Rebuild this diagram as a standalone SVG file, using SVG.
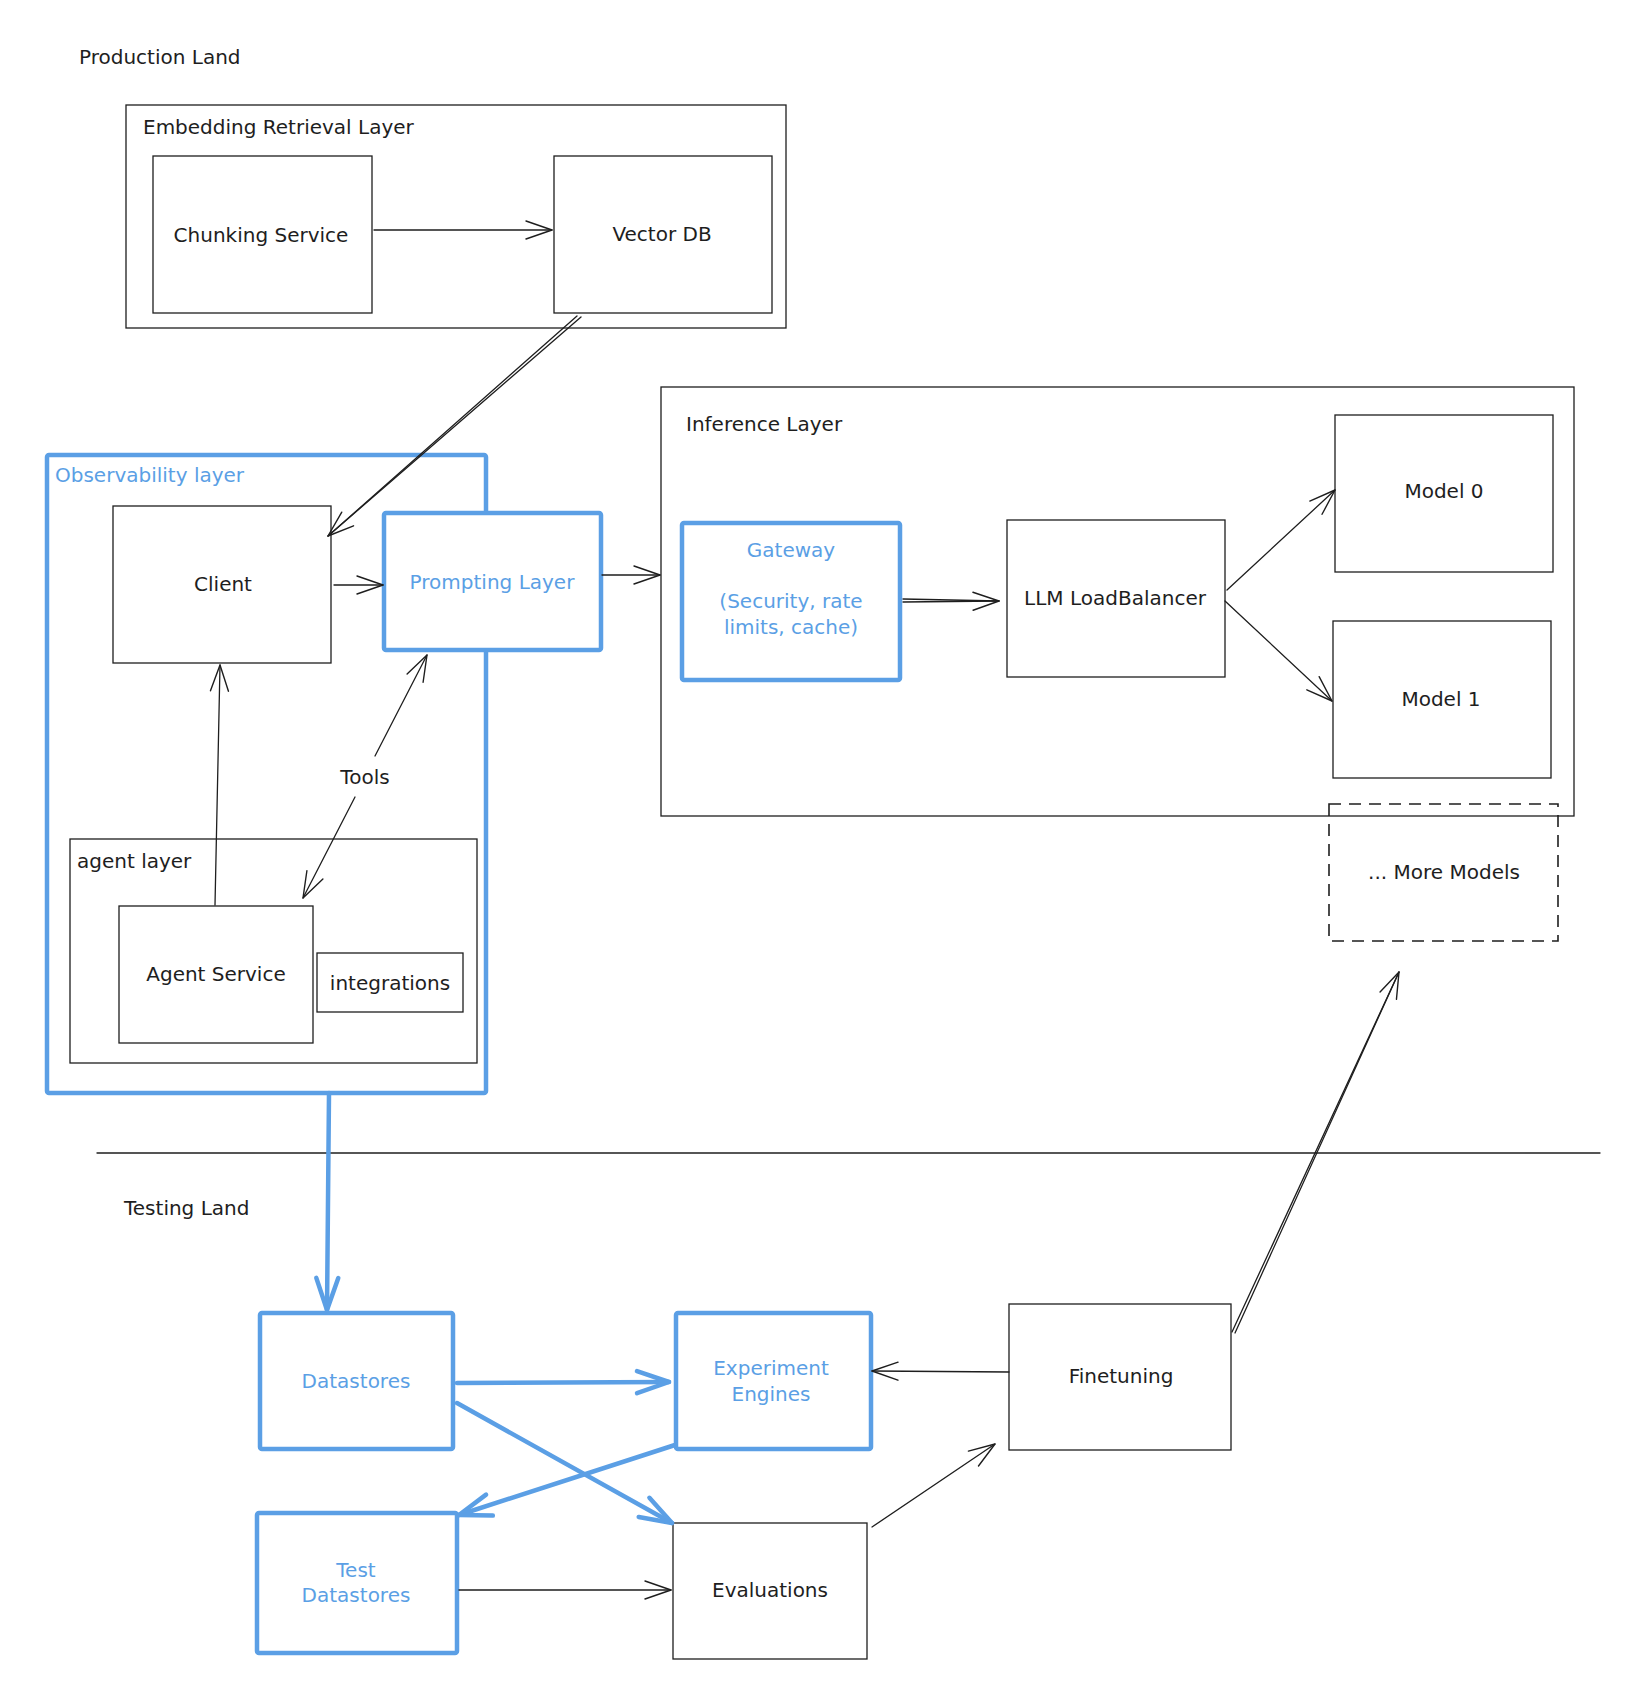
<svg xmlns="http://www.w3.org/2000/svg" width="1646" height="1684" viewBox="0 0 1646 1684">
<defs>
<style>
text{font-family:"DejaVu Sans","Liberation Sans",sans-serif;font-size:20px;fill:#1e1e1e;dominant-baseline:central}
.c{text-anchor:middle}
.b{fill:#5b9fe5}
.box{fill:none;stroke:#1e1e1e;stroke-width:1.3}
.bbox{fill:none;stroke:#5b9fe5;stroke-width:4.5;stroke-linejoin:round}
.wf{fill:#ffffff}
.ln{fill:none;stroke:#1e1e1e;stroke-width:1.3;stroke-linecap:round}
.bl{fill:none;stroke:#5b9fe5;stroke-width:4.5;stroke-linecap:round}
</style>
<marker id="ah" markerUnits="userSpaceOnUse" markerWidth="40" markerHeight="30" viewBox="-32 -15 40 30" refX="0" refY="0" orient="auto" overflow="visible">
<path d="M-26,-9 L0,0 L-26,9" fill="none" stroke="#1e1e1e" stroke-width="1.4" stroke-linecap="round" stroke-linejoin="round"/>
</marker>
<marker id="bh" markerUnits="userSpaceOnUse" markerWidth="44" markerHeight="34" viewBox="-38 -17 44 34" refX="0" refY="0" orient="auto" overflow="visible">
<path d="M-32,-11 L0,0 L-32,11" fill="none" stroke="#5b9fe5" stroke-width="4.5" stroke-linecap="round" stroke-linejoin="round"/>
</marker>
</defs>
<rect width="1646" height="1684" fill="#ffffff"/>

<g id="labels">
<text x="79" y="57">Production Land</text>
<text x="124" y="1208">Testing Land</text>
</g>

<g id="embedding-layer">
<rect class="box" x="126" y="105" width="660" height="223"/>
<text x="143" y="127">Embedding Retrieval Layer</text>
</g>
<g id="chunking-service">
<rect class="box" x="153" y="156" width="219" height="157"/>
<text class="c" x="261" y="235">Chunking Service</text>
</g>
<g id="vector-db">
<rect class="box" x="554" y="156" width="218" height="157"/>
<text class="c" x="662" y="234">Vector DB</text>
</g>

<g id="inference-layer">
<rect class="box" x="661" y="387" width="913" height="429"/>
<text x="686" y="424">Inference Layer</text>
</g>
<g id="gateway">
<rect class="bbox" x="682" y="523" width="218" height="157" rx="2"/>
<text class="c b" x="791" y="550">Gateway</text>
<text class="c b" x="791" y="601">(Security, rate</text>
<text class="c b" x="791" y="627">limits, cache)</text>
</g>
<g id="llm-loadbalancer">
<rect class="box" x="1007" y="520" width="218" height="157"/>
<text class="c" x="1115" y="598">LLM LoadBalancer</text>
</g>
<g id="model-0">
<rect class="box" x="1335" y="415" width="218" height="157"/>
<text class="c" x="1444" y="491">Model 0</text>
</g>
<g id="model-1">
<rect class="box" x="1333" y="621" width="218" height="157"/>
<text class="c" x="1441" y="699">Model 1</text>
</g>
<g id="more-models">
<rect x="1329" y="804" width="229" height="137" fill="none" stroke="#1e1e1e" stroke-width="1.6" stroke-dasharray="12 8"/>
<text class="c" x="1444" y="872">... More Models</text>
</g>

<g id="observability-layer">
<rect class="bbox" x="47" y="455" width="439" height="638" rx="2"/>
<text class="b" x="55" y="475">Observability layer</text>
</g>
<g id="client">
<rect class="box" x="113" y="506" width="218" height="157"/>
<text class="c" x="223" y="584">Client</text>
</g>
<g id="prompting-layer">
<rect class="bbox wf" x="384" y="513" width="217" height="137" rx="2"/>
<text class="c b" x="492" y="582">Prompting Layer</text>
</g>
<g id="agent-layer">
<rect class="box" x="70" y="839" width="407" height="224"/>
<text x="77" y="861">agent layer</text>
</g>
<g id="agent-service">
<rect class="box" x="119" y="906" width="194" height="137"/>
<text class="c" x="216" y="974">Agent Service</text>
</g>
<g id="integrations">
<rect class="box" x="317" y="953" width="146" height="59"/>
<text class="c" x="390" y="983">integrations</text>
</g>

<g id="divider">
<line class="ln" x1="97" y1="1153" x2="1600" y2="1153"/>
</g>

<g id="datastores">
<rect class="bbox" x="260" y="1313" width="193" height="136" rx="2"/>
<text class="c b" x="356" y="1381">Datastores</text>
</g>
<g id="experiment-engines">
<rect class="bbox" x="676" y="1313" width="195" height="136" rx="2"/>
<text class="c b" x="771" y="1368">Experiment</text>
<text class="c b" x="771" y="1394">Engines</text>
</g>
<g id="test-datastores">
<rect class="bbox" x="257" y="1513" width="200" height="140" rx="2"/>
<text class="c b" x="356" y="1570">Test</text>
<text class="c b" x="356" y="1595">Datastores</text>
</g>
<g id="evaluations">
<rect class="box" x="673" y="1523" width="194" height="136"/>
<text class="c" x="770" y="1590">Evaluations</text>
</g>
<g id="finetuning">
<rect class="box" x="1009" y="1304" width="222" height="146"/>
<text class="c" x="1121" y="1376">Finetuning</text>
</g>

<g id="connectors">
<line class="ln" x1="374" y1="230" x2="552" y2="230" marker-end="url(#ah)"/>
<line class="ln" x1="577" y1="316" x2="328" y2="536"/>
<line class="ln" x1="581" y1="317" x2="328" y2="536" marker-end="url(#ah)"/>
<line class="ln" x1="334" y1="585" x2="383" y2="585" marker-end="url(#ah)"/>
<line class="ln" x1="602" y1="575" x2="660" y2="575" marker-end="url(#ah)"/>
<line class="ln" x1="903" y1="599" x2="999" y2="601"/>
<line class="ln" x1="903" y1="602" x2="999" y2="601" marker-end="url(#ah)"/>
<line class="ln" x1="1227" y1="590" x2="1335" y2="490" marker-end="url(#ah)"/>
<line class="ln" x1="1225" y1="601" x2="1332" y2="701" marker-end="url(#ah)"/>
<line class="ln" x1="215" y1="905" x2="220" y2="665" marker-end="url(#ah)"/>
<line class="ln" x1="375" y1="756" x2="427" y2="655" marker-end="url(#ah)"/>
<text class="c" x="365" y="777">Tools</text>
<line class="ln" x1="355" y1="797" x2="303" y2="898" marker-end="url(#ah)"/>
<line class="bl" x1="329" y1="1093" x2="327" y2="1310" marker-end="url(#bh)"/>
<line class="bl" x1="457" y1="1383" x2="669" y2="1382" marker-end="url(#bh)"/>
<line class="bl" x1="457" y1="1403" x2="672" y2="1523" marker-end="url(#bh)"/>
<line class="bl" x1="675" y1="1445" x2="459" y2="1515" marker-end="url(#bh)"/>
<line class="ln" x1="459" y1="1590" x2="671" y2="1590" marker-end="url(#ah)"/>
<line class="ln" x1="872" y1="1527" x2="995" y2="1444" marker-end="url(#ah)"/>
<line class="ln" x1="1009" y1="1372" x2="872" y2="1371" marker-end="url(#ah)"/>
<line class="ln" x1="1232" y1="1332" x2="1399" y2="972"/>
<line class="ln" x1="1235" y1="1333" x2="1399" y2="972" marker-end="url(#ah)"/>
</g>
</svg>
